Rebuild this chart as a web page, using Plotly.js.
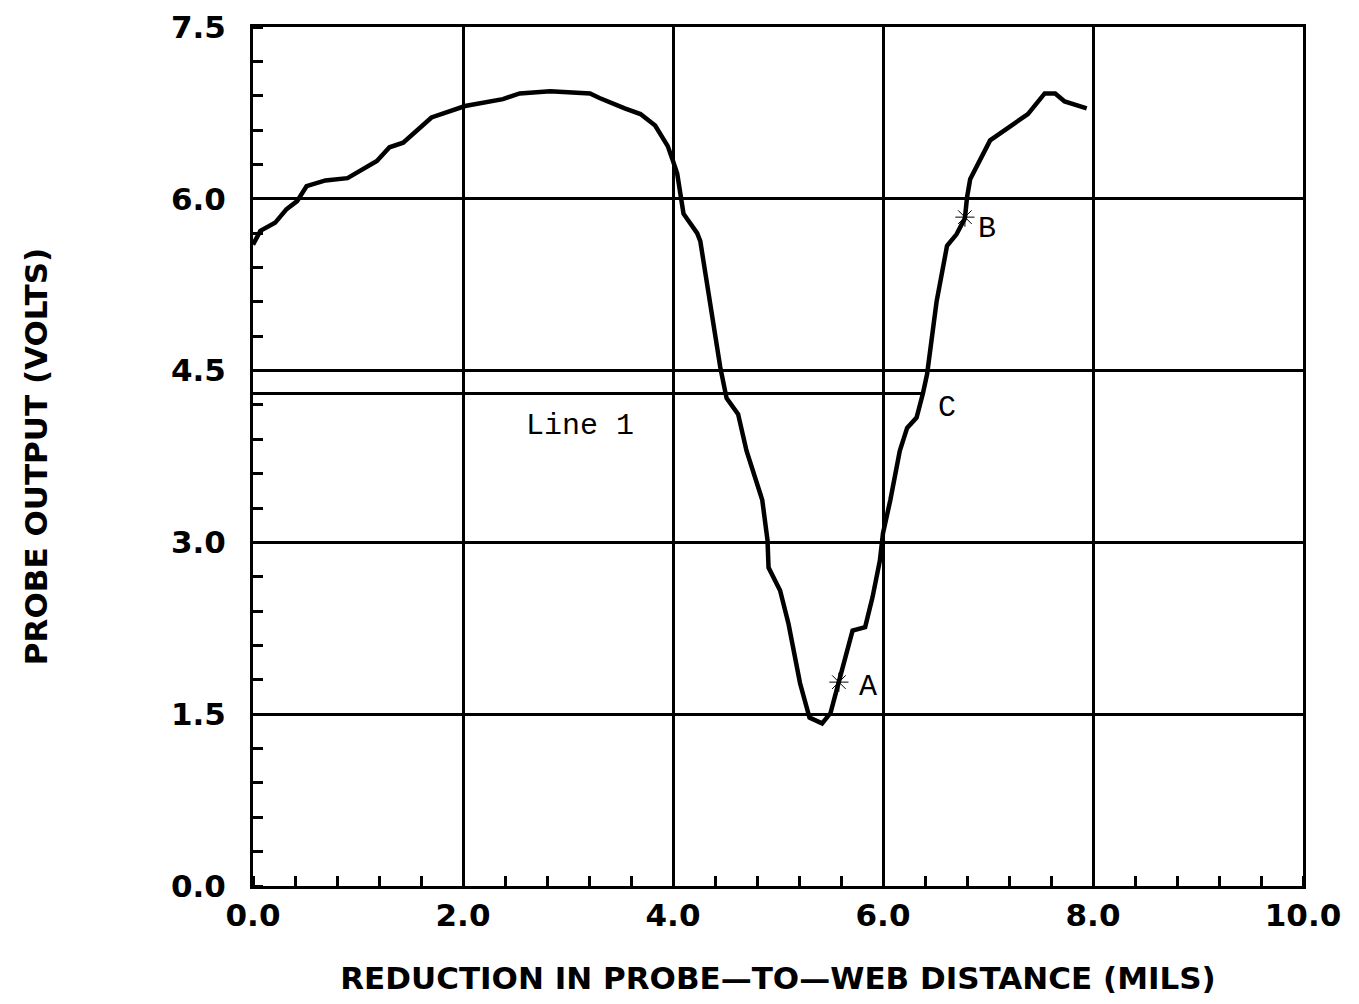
<!DOCTYPE html>
<html>
<head>
<meta charset="utf-8">
<script src="https://cdn.plot.ly/plotly-3.0.1.min.js"></script>
<style>
html,body{margin:0;padding:0;background:#fff;}
#chart{width:1359px;height:1004px;}
</style>
</head>
<body>
<div id="chart"></div>
<script>
// Probe output curve (reduction in distance, mils -> volts)
const distance = [0.00,0.07,0.21,0.32,0.42,0.51,0.69,0.90,1.18,1.30,1.43,1.70,2.02,2.38,2.54,2.83,3.21,3.30,3.54,3.69,3.83,3.95,4.00,4.04,4.10,4.23,4.26,4.35,4.45,4.51,4.62,4.70,4.85,4.90,4.91,5.02,5.10,5.21,5.30,5.42,5.50,5.59,5.71,5.83,5.90,5.97,6.00,6.07,6.16,6.23,6.32,6.38,6.42,6.51,6.61,6.70,6.78,6.80,6.83,7.02,7.13,7.38,7.54,7.64,7.73,7.94];
const voltage  = [5.60,5.72,5.79,5.91,5.98,6.11,6.16,6.18,6.33,6.45,6.49,6.71,6.81,6.87,6.92,6.94,6.92,6.88,6.79,6.74,6.64,6.46,6.33,6.22,5.87,5.70,5.63,5.10,4.53,4.26,4.12,3.80,3.37,3.02,2.78,2.58,2.29,1.77,1.47,1.42,1.51,1.82,2.23,2.26,2.52,2.84,3.08,3.37,3.80,4.00,4.09,4.30,4.47,5.10,5.59,5.69,5.83,6.01,6.17,6.51,6.58,6.74,6.92,6.92,6.85,6.79];

// Line 1 (threshold)
const line1X = [0.0, 6.38];
const line1Y = [4.30, 4.30];

// Marked points A, B, C
const pointLabels = ['A', 'B', 'C'];
const pointX = [5.58, 6.78, 6.38];
const pointY = [1.78, 5.84, 4.30];
const starX = [5.58, 6.78];
const starY = [1.78, 5.84];

// Axis ticks
const xTicks = [0, 2, 4, 6, 8, 10];
const xTickText = ['0.0', '2.0', '4.0', '6.0', '8.0', '10.0'];
const yTicks = [0, 1.5, 3.0, 4.5, 6.0, 7.5];
const yTickText = ['0.0', '1.5', '3.0', '4.5', '6.0', '7.5'];

const labelOffsetX = [0.28, 0.21, 0.23];
const labelOffsetY = [-0.04, -0.10, -0.13];

const traces = [
  {x: line1X, y: line1Y, mode: 'lines', line: {color: '#000', width: 3}, hoverinfo: 'skip', showlegend: false},
  {x: distance, y: voltage, mode: 'lines', line: {color: '#000', width: 4.5}, showlegend: false},
  {x: starX, y: starY, mode: 'markers', marker: {symbol: 'asterisk-open', size: 16, color: '#000', line: {color: '#000', width: 1}}, showlegend: false}
];

const annotations = pointLabels.map((t, i) => ({
  x: pointX[i] + labelOffsetX[i], y: pointY[i] + labelOffsetY[i], text: t, showarrow: false,
  font: {family: 'Liberation Mono, Courier New, monospace', size: 30, color: '#000'}
}));
annotations.push({x: 3.11, y: 4.02, text: 'Line 1', showarrow: false,
  font: {family: 'Liberation Mono, Courier New, monospace', size: 30, color: '#000'}});

const tickFont = {family: 'DejaVu Sans, sans-serif', size: 31, color: '#000', weight: 'bold'};
const titleFont = {family: 'DejaVu Sans, sans-serif', size: 31, color: '#000', weight: 'bold'};

const layout = {
  width: 1359, height: 1004,
  paper_bgcolor: '#fff', plot_bgcolor: '#fff',
  margin: {l: 253, r: 56, t: 27, b: 118},
  showlegend: false,
  xaxis: {
    range: [0, 10], tickvals: xTicks, ticktext: xTickText, tickfont: tickFont,
    showgrid: true, gridcolor: '#000', gridwidth: 3,
    showline: true, linecolor: '#000', linewidth: 3, mirror: true,
    ticks: '', zeroline: false, ticklabelstandoff: 0,
    minor: {dtick: 0.4, tick0: 0, ticks: 'inside', ticklen: 10, tickwidth: 3, tickcolor: '#000', showgrid: false},
    title: {text: 'REDUCTION IN PROBE—TO—WEB DISTANCE (MILS)', font: titleFont, standoff: 36}
  },
  yaxis: {
    range: [0, 7.5], tickvals: yTicks, ticktext: yTickText, tickfont: tickFont,
    showgrid: true, gridcolor: '#000', gridwidth: 3,
    showline: true, linecolor: '#000', linewidth: 3, mirror: true,
    ticks: '', zeroline: false, ticklabelstandoff: 18,
    minor: {dtick: 0.3, tick0: 0, ticks: 'inside', ticklen: 10, tickwidth: 3, tickcolor: '#000', showgrid: false},
    title: {text: 'PROBE OUTPUT (VOLTS)', font: titleFont, standoff: 115}
  },
  annotations: annotations
};

Plotly.newPlot('chart', traces, layout, {staticPlot: true, displayModeBar: false});
</script>
</body>
</html>
